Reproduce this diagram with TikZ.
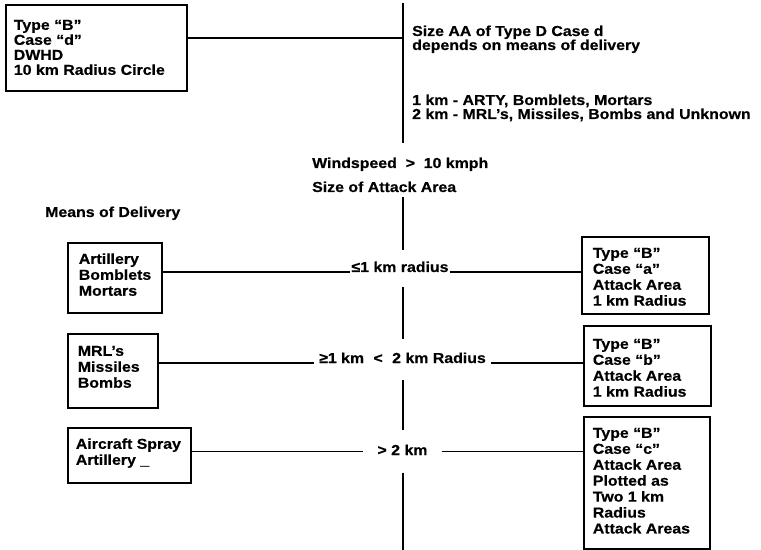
\documentclass[tikz,border=0pt]{standalone}
\usepackage{fontspec}
\newfontfamily\lab{Liberation Sans}[FakeStretch=1.1,FakeBold=0.5]
\newcommand\bxt[5]{\parbox[c][#2][t]{#1}{\raggedright\leftskip=#3\relax\rule{0pt}{#4}#5\par}}
\tikzset{
  every node/.style={font=\lab\bfseries\fontsize{14.5}{16}\selectfont},
  box/.style={draw, line width=1.7bp, inner sep=0pt, anchor=north west},
  lbl/.style={inner sep=0pt, text height=10bp, text depth=3bp},
  txt/.style={inner sep=0pt, anchor=base west},
  conn/.style={line width=1.2bp},
  spine/.style={line width=1.4bp},
}
\begin{document}
\begin{tikzpicture}[x=1bp,y=-1bp]
\useasboundingbox (0,0) rectangle (761,550);
% boxes
\node[box] (d) at (5,4) {\bxt{181bp}{86bp}{8bp}{25bp}{\baselineskip=15bp Type “B”\\Case “d”\\DWHD\\10 km Radius Circle}};
\node[box] (art) at (67,242) {\bxt{94bp}{70bp}{11bp}{21bp}{Artillery\\Bomblets\\Mortars}};
\node[box] (mrl) at (67,333) {\bxt{90bp}{74bp}{10bp}{22bp}{MRL’s\\Missiles\\Bombs}};
\node[box] (air) at (67,427) {\bxt{123bp}{55bp}{8bp}{21bp}{Aircraft Spray\\Artillery \_}};
\node[box] (ba) at (581,236) {\bxt{127bp}{77bp}{11bp}{21bp}{Type “B”\\Case “a”\\Attack Area\\1 km Radius}};
\node[box] (bb) at (583,325) {\bxt{127bp}{80bp}{9bp}{23bp}{Type “B”\\Case “b”\\Attack Area\\1 km Radius}};
\node[box] (bc) at (583,416) {\bxt{126bp}{132bp}{9bp}{21bp}{Type “B”\\Case “c”\\Attack Area\\Plotted as\\Two 1 km\\Radius\\Attack Areas}};
% free texts
\node[txt] (t1) at (412,36) {Size AA of Type D Case d};
\node[txt] (t2) at (412,50) {depends on means of delivery};
\node[txt] (t3) at (412,105) {1 km - ARTY, Bomblets, Mortars};
\node[txt] (t4) at (412,119) {2 km - MRL’s, Missiles, Bombs and Unknown};
\node[txt] (mod) at (45,217) {Means of Delivery};
\node[lbl, anchor=base west, inner ysep=15bp] (ws1) at (312,168) {Windspeed \ >\ \ 10 kmph};
\node[lbl, anchor=base west, inner ysep=2bp] (ws2) at (312,192) {Size of Attack Area};
% row labels
\node[lbl, inner xsep=1bp, minimum height=37bp] (l1) at (400,268.5) {≤1 km radius};
\node[lbl, inner xsep=5bp, minimum height=40bp] (l2) at (402.5,359.5) {≥1 km\hspace{5bp} <\hspace{5bp} 2 km Radius};
\node[lbl, inner xsep=14bp, minimum height=42bp] (l3) at (402.5,451.5) {> 2 km};
% spine
\coordinate (sT) at (403,3);
\coordinate (sB) at (403,550);
\coordinate (jT) at (403,38);
\draw[spine] (sT) -- (sT |- ws1.north);
\draw[spine] (sT |- ws2.south) -- (sT |- l1.north);
\draw[spine] (sT |- l1.south) -- (sT |- l2.north);
\draw[spine] (sT |- l2.south) -- (sT |- l3.north);
\draw[spine] (sT |- l3.south) -- (sB);
% connectors
\draw[conn] (d.east |- jT) -- (jT);
\draw[conn] (art.east |- l1.base) -- (l1.base west);
\draw[conn] (l1.base east) -- (ba.west |- l1.base);
\draw[conn] (mrl.east |- l2.base) -- (l2.base west);
\draw[conn] (l2.base east) -- (bb.west |- l2.base);
\draw[conn] (air.east |- l3.west) -- (l3.west);
\draw[conn] (l3.east) -- (bc.west |- l3.east);
\end{tikzpicture}
\end{document}
